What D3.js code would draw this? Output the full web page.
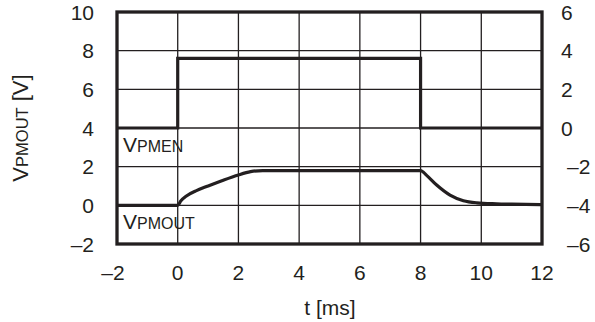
<!DOCTYPE html>
<html><head><meta charset="utf-8">
<script src="https://cdn.jsdelivr.net/npm/d3@7/dist/d3.min.js"></script>
<style>body{margin:0;background:#fff}svg{display:block}text{font-family:"Liberation Sans",Arial,sans-serif;fill:#231f20}</style>
</head><body><svg id="c" width="595" height="322"></svg>
<script>
const tTicks = [-2, 0, 2, 4, 6, 8, 10, 12];
const leftTicks = [-2, 0, 2, 4, 6, 8, 10];
const rightTicks = [-6, -4, -2, 0, 2, 4, 6];
// VPMEN (right axis, V)
const penT = [-2, 0, 0, 8, 8, 12];
const penV = [0, 0, 3.6, 3.6, 0, 0];
// VPMOUT (left axis, V)
const outT = [-2, 0, 0.1, 0.3, 0.6, 1.0, 1.5, 2.0, 2.4, 2.8, 8, 8.2, 8.53, 8.97, 9.41, 9.85, 10.5, 11, 12];
const outV = [0, 0, 0.22, 0.5, 0.75, 1.0, 1.3, 1.57, 1.74, 1.8, 1.8, 1.55, 1.05, 0.53, 0.24, 0.13, 0.08, 0.06, 0.03];

const col = "#231f20";
const svg = d3.select("#c");
const L = 117, R = 542, T = 12, B = 244;
const x = d3.scaleLinear().domain([-2, 12]).range([L, R]);
const yL = d3.scaleLinear().domain([-2, 10]).range([B, T]);
const yR = d3.scaleLinear().domain([-6, 6]).range([B, T]);

const g = svg.append("g");
g.selectAll(".vg").data(tTicks.slice(1, -1)).join("line")
  .attr("x1", d => x(d)).attr("x2", d => x(d)).attr("y1", T).attr("y2", B)
  .attr("stroke", col).attr("stroke-width", 1.3);
g.selectAll(".hg").data(leftTicks.slice(1, -1)).join("line")
  .attr("y1", d => yL(d)).attr("y2", d => yL(d)).attr("x1", L).attr("x2", R)
  .attr("stroke", col).attr("stroke-width", 1.3);

const pen = d3.line().x((d, i) => x(penT[i])).y(d => yR(d)).curve(d3.curveLinear);
svg.append("path").attr("d", pen(penV)).attr("fill", "none").attr("stroke", col).attr("stroke-width", 3.2);
const out = d3.line().x((d, i) => x(outT[i])).y(d => yL(d)).curve(d3.curveMonotoneX);
svg.append("path").attr("d", out(outV)).attr("fill", "none").attr("stroke", col).attr("stroke-width", 3.2);

svg.append("rect").attr("x", L).attr("y", T).attr("width", R - L).attr("height", B - T)
  .attr("fill", "none").attr("stroke", col).attr("stroke-width", 3.3);

const fmt = d => d < 0 ? "\u2013" + Math.abs(d) : String(d);
svg.selectAll(".lt").data(leftTicks).join("text")
  .attr("x", 94).attr("y", d => yL(d) + 7.5).attr("text-anchor", "end")
  .attr("font-size", 21).text(fmt);
svg.selectAll(".rt").data(rightTicks).join("text")
  .attr("x", d => d < 0 ? 567 : 561).attr("y", d => yR(d) + 7.5).attr("text-anchor", "start")
  .attr("font-size", 21).text(fmt);
svg.selectAll(".xt").data(tTicks).join("text")
  .attr("x", d => x(d) - (d < 0 ? 4 : 0)).attr("y", 280).attr("text-anchor", "middle")
  .attr("font-size", 21).text(fmt);

svg.append("text").attr("x", 330).attr("y", 315).attr("text-anchor", "middle")
  .attr("font-size", 21).text("t [ms]");

function lab(xp, yp, sub) {
  const t = svg.append("text").attr("x", xp).attr("y", yp);
  t.append("tspan").attr("font-size", 21).text("V");
  t.append("tspan").attr("font-size", 16).text(sub);
  return t;
}
lab(123, 151.5, "PMEN");
lab(123, 228.5, "PMOUT");

const yt = svg.append("text").attr("transform", "translate(28,128) rotate(-90)").attr("text-anchor", "middle");
yt.append("tspan").attr("font-size", 22).text("V");
yt.append("tspan").attr("font-size", 16.5).text("PMOUT");
yt.append("tspan").attr("font-size", 22).text(" [V]");
</script></body></html>
